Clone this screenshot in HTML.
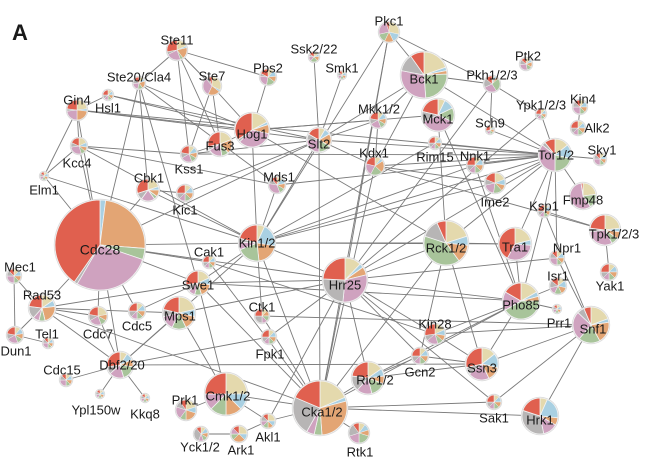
<!DOCTYPE html>
<html><head><meta charset="utf-8">
<style>
html,body{margin:0;padding:0;background:#fff;}
svg{display:block;}
text{font-family:"Liberation Sans",Arial,sans-serif;fill:#1a1a1a;}
</style></head>
<body>
<svg id="s" width="651" height="464" viewBox="0 0 651 464" xmlns="http://www.w3.org/2000/svg">
<g id="edges" stroke="#7a7a7a" stroke-width="0.9" fill="none"></g>
<g id="nodes"></g>
<g id="labels" font-size="13"></g>
<text x="12" y="40" font-size="22" font-weight="bold">A</text>
</svg>
<script>
var N = {
"Ste11":[177,50,10,177,40,[2,.3,2,.5,2.5,.5,3]],
"Ste20/Cla4":[139,83,6,139,77,[1,.5,1.5,1,1.5,1,1]],
"Ste7":[212,86,9,212,76,[3,.3,2,0,3,.5,.5]],
"Pbs2":[268,77,8,268,68,[1,1,1,1.5,2,.5,1.5]],
"Ssk2/22":[314,57,5,314,49,[1,.5,1,1.5,1,.5,1]],
"Smk1":[342,75,4,342,68,[1,1,1,1,1,1,1]],
"Pkc1":[389,32,10,389,21,[3,1.5,1.5,1.5,2.5,0,.5]],
"Bck1":[424,75,23,424,79,[4,.5,.5,5,6,2.5,2]],
"Pkh1/2/3":[492,84,8,492,75,[.5,.5,.5,3,3,2,1.5]],
"Ptk2":[526,64,6,528,56,[1,.5,1,1,2,1,1]],
"Mck1":[438,115,16,438,119,[1,1.5,0,2,5,1.5,3]],
"Mkk1/2":[378,120,8,379,109,[1,1,1,1,2,1,2]],
"Sch9":[490,130,4,490,123,[1,.5,1,1,1,.5,2]],
"Ypk1/2/3":[541,114,5,541,105,[1,1,1,1,1,1,2]],
"Kin4":[580,107,7,583,99,[1,1,1,1,2,1,1]],
"Alk2":[578,128,7,597,128,[1,1,1,1,1,1,2]],
"Sky1":[600,159,6,602,150,[1,1,1,1,2,1,1]],
"Tor1/2":[555,155,16,556,155,[2,2,0,3,5,.5,1.5]],
"Gin4":[77,110,10,77,100,[3,.5,3,0,3,.5,3]],
"Hsl1":[108,95,5,108,108,[1,1,1,1,1,1,2]],
"Kcc4":[79,146,8,77,163,[2,1,1,1,3,1,2]],
"Elm1":[44,176,4,44,190,[1,1,1,1,1,1,1]],
"Hog1":[252,130,17,252,134,[2,.3,1,0,4,.3,4]],
"Fus3":[220,144,12,220,146,[2,0,2,1,2,.5,3]],
"Slt2":[319,140,12,319,144,[1,1,2,2,3,1,2]],
"Kss1":[189,154,8,189,169,[1,1,1,1,2,1,2]],
"Mds1":[277,185,8,279,177,[1,1,1,1,3,1,1]],
"Cbk1":[148,190,11,149,178,[2,.5,1,.5,2,1,3]],
"Kic1":[185,193,8,185,210,[1,1,1,1,1,1,2]],
"Kdx1":[375,166,9,374,153,[1,.5,2,2,2,0,2]],
"Rim15":[435,143,6,435,157,[1,1,1,1,1,1,2]],
"Nnk1":[475,165,8,475,156,[1,1,1,1,1,1,2]],
"Ime2":[495,183,10,495,202,[2,1,1,1.5,2,1,2]],
"Ksp1":[544,211,6,544,206,[1,1,1,1,1,1,2]],
"Fmp48":[583,196,13,583,200,[2,0,0,1.5,5,0,.2]],
"Tpk1/2/3":[605,230,15,614,234,[3,.5,1,1,4,.5,3]],
"Cdc28":[100,245,45,100,250,[0,.5,6,1,7,.3,10]],
"Cak1":[209,262,6,209,252,[1,1,1,1,1,1,2]],
"Kin1/2":[257,243,18,257,243,[1,3,3,3,1,.5,3]],
"Mec1":[14,276,7,20,267,[1,1,1,1,2,1,1]],
"Rad53":[42,308,13,42,295,[2,1,3,1,1,2,3]],
"Tel1":[48,343,5,47,334,[1,1,1,1,2,1,1]],
"Dun1":[15,335,8,16,351,[1,1,1,1,2,1,2]],
"Cdc7":[98,316,9,98,334,[2,0,1,1,2,1,2]],
"Cdc5":[137,311,8,137,326,[1,1,1,1,1,1,2]],
"Swe1":[198,283,12,198,285,[2,1,2,1,1,1,3]],
"Mps1":[179,313,16,180,316,[3,1,2,2,2,1,3]],
"Ctk1":[262,316,7,262,307,[1,0,1,1,1,2,2]],
"Fpk1":[269,337,7,270,354,[1,1,1,1,1,1,2]],
"Dbf2/20":[120,365,13,122,365,[1,1,1,2,2,1,3]],
"Cdc15":[66,380,6,62,370,[1,1,1,1,2,1,1]],
"Ypl150w":[100,394,4,96,410,[1,1,1,1,1,1,1]],
"Kkq8":[145,398,4,145,414,[1,1,1,1,1,1,1]],
"Prk1":[186,410,10,185,400,[2,1,2,1,2,1,1]],
"Cmk1/2":[226,394,21,228,396,[4,2,2,2,2,0,4]],
"Akl1":[268,421,7,268,437,[2,1,1,1,1,1,1]],
"Ark1":[239,434,8,241,450,[2,1,2,1,1,0,1]],
"Yck1/2":[201,434,7,200,447,[1,1,1,1,1,3,1]],
"Cka1/2":[320,408,27,322,412,[4,.5,6,1,1,5,4]],
"Rtk1":[359,433,10,360,452,[1,1,1,2,2,2,1]],
"Hrr25":[345,280,22,345,285,[2,.5,1,0,5,4,4]],
"Rck1/2":[446,243,22,446,248,[3,1,2,6,0,2,1]],
"Tra1":[515,244,16,515,247,[2,.5,0,0,3,0,4]],
"Npr1":[557,258,7,567,248,[1,1,1,1,2,1,1]],
"Isr1":[558,286,8,558,276,[1,1,1,1,1,1,1]],
"Yak1":[609,272,8,610,286,[1,1,1,1,1,1,2]],
"Pho85":[521,301,18,521,305,[2,.5,.5,5,2,0,2]],
"Prr1":[557,309,4,559,323,[1,1,1,1,1,1,1]],
"Snf1":[591,325,18,593,329,[3,.5,3,3,4,1,1]],
"Kin28":[435,334,10,435,324,[2,1,1,1,2,1,3]],
"Gcn2":[420,356,8,420,372,[1,1,1,1,1,1,2]],
"Ssn3":[482,364,16,482,368,[2,2,2,0,3,1,4]],
"Rio1/2":[368,378,16,375,380,[2,1,1,2,2,2,3]],
"Sak1":[494,402,7,494,418,[1,1,1,1,1,1,2]],
"Hrk1":[540,416,18,540,420,[1,3,1,0,2,5,3]]
};
var E = "Ste11-Ste20/Cla4,Ste11-Ste7,Ste11-Pbs2,Ste11-Kss1,Ste11-Fus3,Ste20/Cla4-Cdc28,Ste20/Cla4-Cbk1,Ste20/Cla4-Hog1,Ste20/Cla4-Swe1,Ste20/Cla4-Mds1,Ste7-Kss1,Ste7-Fus3,Ste7-Hog1,Pbs2-Hog1,Ssk2/22-Slt2,Smk1-Slt2,Pkc1-Bck1,Pkc1-Pkh1/2/3,Pkc1-Kin1/2,Pkc1-Cka1/2,Pkc1-Hrr25,Bck1-Mkk1/2,Bck1-Pkh1/2/3,Bck1-Tor1/2,Bck1-Slt2,Bck1-Kdx1,Mkk1/2-Slt2,Mkk1/2-Kdx1,Mkk1/2-Hog1,Pkh1/2/3-Ypk1/2/3,Pkh1/2/3-Sch9,Pkh1/2/3-Hrr25,Ypk1/2/3-Tor1/2,Ypk1/2/3-Hrr25,Sky1-Tor1/2,Alk2-Kin4,Tor1/2-Fmp48,Tor1/2-Ksp1,Tor1/2-Npr1,Tor1/2-Sch9,Tor1/2-Rim15,Tor1/2-Kdx1,Tor1/2-Slt2,Tor1/2-Nnk1,Tor1/2-Ime2,Tor1/2-Kin1/2,Tor1/2-Rck1/2,Tor1/2-Hrr25,Tor1/2-Tra1,Mck1-Rck1/2,Mck1-Hog1,Mck1-Pho85,Gin4-Hsl1,Gin4-Kcc4,Gin4-Elm1,Gin4-Cdc28,Gin4-Hog1,Gin4-Slt2,Gin4-Tor1/2,Hsl1-Hog1,Hsl1-Slt2,Kcc4-Elm1,Kcc4-Cdc28,Kcc4-Kss1,Kcc4-Mds1,Kcc4-Kin1/2,Elm1-Cdc28,Elm1-Kin1/2,Hog1-Fus3,Hog1-Kin1/2,Hog1-Rck1/2,Fus3-Kss1,Kss1-Slt2,Kss1-Tor1/2,Cbk1-Kic1,Cbk1-Cdc28,Cbk1-Kin1/2,Kic1-Slt2,Mds1-Tor1/2,Mds1-Kin1/2,Kdx1-Slt2,Kdx1-Ime2,Kdx1-Cka1/2,Rim15-Kin1/2,Nnk1-Kin1/2,Nnk1-Pho85,Ime2-Kin1/2,Ksp1-Tpk1/2/3,Ksp1-Snf1,Ksp1-Pho85,Tpk1/2/3-Yak1,Tpk1/2/3-Kdx1,Cdc28-Swe1,Cdc28-Cak1,Cdc28-Kin1/2,Cdc28-Cdc5,Cdc28-Cdc7,Cdc28-Dbf2/20,Cdc28-Hrr25,Cdc28-Rad53,Cdc28-Slt2,Kin1/2-Swe1,Kin1/2-Cka1/2,Kin1/2-Hrr25,Kin1/2-Rck1/2,Kin1/2-Tra1,Kin1/2-Ctk1,Kin1/2-Slt2,Cak1-Kin28,Cak1-Cka1/2,Mec1-Rad53,Mec1-Dun1,Rad53-Dun1,Rad53-Cdc7,Rad53-Dbf2/20,Rad53-Swe1,Rad53-Cka1/2,Rad53-Mps1,Dun1-Tel1,Cdc7-Dbf2/20,Cdc5-Swe1,Swe1-Cmk1/2,Swe1-Hrr25,Swe1-Cka1/2,Swe1-Pho85,Mps1-Dbf2/20,Mps1-Cmk1/2,Mps1-Hrr25,Ctk1-Snf1,Ctk1-Cka1/2,Fpk1-Hrr25,Fpk1-Dbf2/20,Dbf2/20-Cdc15,Dbf2/20-Ypl150w,Dbf2/20-Kkq8,Dbf2/20-Ssn3,Dbf2/20-Kin1/2,Prk1-Cmk1/2,Cmk1/2-Cka1/2,Cmk1/2-Akl1,Akl1-Ark1,Akl1-Cka1/2,Akl1-Hrr25,Ark1-Yck1/2,Cka1/2-Rtk1,Cka1/2-Hrr25,Cka1/2-Rio1/2,Cka1/2-Sak1,Cka1/2-Hrk1,Cka1/2-Pho85,Cka1/2-Rck1/2,Cka1/2-Slt2,Hrr25-Rck1/2,Hrr25-Pho85,Hrr25-Npr1,Hrr25-Kin28,Hrr25-Gcn2,Hrr25-Sak1,Hrr25-Rio1/2,Rck1/2-Tra1,Rck1/2-Ssn3,Rck1/2-Gcn2,Tra1-Pho85,Pho85-Isr1,Pho85-Prr1,Pho85-Ssn3,Pho85-Kin28,Npr1-Snf1,Snf1-Ssn3,Snf1-Sak1,Snf1-Hrk1,Snf1-Kin28,Ssn3-Gcn2,Ssn3-Rio1/2,Ssn3-Kin28,Rio1/2-Gcn2,Rio1/2-Pho85".split(",");
var C = ["#e4d9ad","#a9d0e2","#e3a574","#a8c49a","#cfa2bf","#b7b5b5","#e0604f"];
var ns="http://www.w3.org/2000/svg";
function el(t,a,p){var e=document.createElementNS(ns,t);for(var k in a)e.setAttribute(k,a[k]);p.appendChild(e);return e;}
var ge=document.getElementById("edges"),gn=document.getElementById("nodes"),gl=document.getElementById("labels");
E.forEach(function(s){var p=s.split("-");var a=N[p[0]],b=N[p[1]];if(!a||!b)return;
 el("line",{x1:a[0],y1:a[1],x2:b[0],y2:b[1]},ge);});
for(var k in N){var n=N[k],x=n[0],y=n[1],r=n[2],w=n[5];
 var tot=w.reduce(function(s,v){return s+v;},0),ang=0;
 el("circle",{cx:x,cy:y,r:r+1.2,fill:"#dcdcdc"},gn);
 for(var i=0;i<7;i++){if(w[i]<=0)continue;var a0=ang,a1=ang+w[i]/tot*2*Math.PI;ang=a1;
  var x0=x+r*Math.sin(a0),y0=y-r*Math.cos(a0),x1=x+r*Math.sin(a1),y1=y-r*Math.cos(a1);
  var lg=(a1-a0)>Math.PI?1:0;
  el("path",{d:"M"+x+","+y+"L"+x0.toFixed(2)+","+y0.toFixed(2)+"A"+r+","+r+" 0 "+lg+" 1 "+x1.toFixed(2)+","+y1.toFixed(2)+"Z",fill:C[i],stroke:"#f2f2f2","stroke-width":r>10?0.8:0.5},gn);}
 var t=el("text",{x:n[3],y:n[4]+4.5,"text-anchor":"middle"},gl);t.textContent=k;
 if(k=="Cdc28"){t.setAttribute("font-size","14");}
}
</script>
</body></html>
